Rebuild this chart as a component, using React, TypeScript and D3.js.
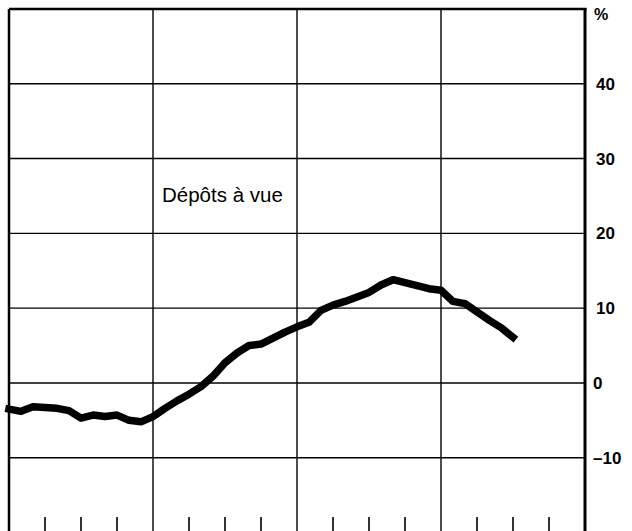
import { useMemo } from "react";
import * as d3 from "d3";

// monthly growth rate, % (year-on-year), one value per month from the left edge
const depotsVue = [
  -3.5, -3.8, -3.2, -3.3, -3.4, -3.7, -4.7, -4.3, -4.5, -4.3, -5.0, -5.2,
  -4.5, -3.4, -2.4, -1.5, -0.5, 0.9, 2.7, 4.0, 5.0, 5.2, 6.0, 6.8,
  7.5, 8.1, 9.7, 10.4, 10.9, 11.5, 12.1, 13.1, 13.8, 13.4, 13.0, 12.6,
  12.4, 10.9, 10.6, 9.5, 8.4, 7.4, 6.1,
];
const yTicks = [40, 30, 20, 10, 0, -10];
const years = [0, 1, 2, 3, 4];
const quarters = [3, 6, 9];

const W = 632;
const H = 531;
const left = 9;
const right = 585;
const top = 9;
const bottom = 531;

export default function App() {
  const x = useMemo(() => d3.scaleLinear().domain([0, 48]).range([left, right]), []);
  const y = useMemo(() => d3.scaleLinear().domain([-20, 50]).range([532.5, 9]), []);

  const line = d3
    .line<number>()
    .x((_, i) => x(i))
    .y((d) => y(d))
    .curve(d3.curveLinear);

  const font = "'Liberation Sans', Arial, Helvetica, sans-serif";

  return (
    <svg
      width={W}
      height={H}
      viewBox={`0 0 ${W} ${H}`}
      style={{ position: "absolute", left: 0, top: 0, background: "#fff" }}
    >
      {/* horizontal grid */}
      {yTicks.map((t) => (
        <line key={t} x1={left} x2={right} y1={y(t)} y2={y(t)} stroke="#000" strokeWidth={1.4} />
      ))}
      {/* vertical grid (years) */}
      {years.slice(1, 4).map((yr) => (
        <line key={yr} x1={x(yr * 12)} x2={x(yr * 12)} y1={top} y2={bottom} stroke="#000" strokeWidth={1.4} />
      ))}
      {/* quarter ticks at the bottom */}
      {years.slice(0, 4).map((yr) =>
        quarters.map((q) => (
          <line
            key={`${yr}-${q}`}
            x1={x(yr * 12 + q)}
            x2={x(yr * 12 + q)}
            y1={bottom - 14}
            y2={bottom}
            stroke="#000"
            strokeWidth={1.6}
          />
        ))
      )}
      {/* frame */}
      <line x1={left} x2={right + 1.5} y1={top} y2={top} stroke="#000" strokeWidth={2.5} />
      <line x1={left} x2={left} y1={top} y2={bottom} stroke="#000" strokeWidth={2.5} />
      <line x1={right} x2={right} y1={top - 1} y2={bottom} stroke="#000" strokeWidth={3} />

      {/* series */}
      <path
        d={line(depotsVue) ?? ""}
        fill="none"
        stroke="#000"
        strokeWidth={7.5}
        strokeLinejoin="round"
        strokeLinecap="square"
      />

      <text x={162} y={202} fontFamily={font} fontSize={20.5} fill="#000">
        Dépôts à vue
      </text>

      {/* right axis labels */}
      <text x={594} y={20} fontFamily={font} fontSize={16} fontWeight="bold" fill="#000">
        %
      </text>
      {yTicks.map((t) => (
        <text
          key={t}
          x={t < 0 ? 593 : t === 0 ? 593 : 596}
          y={y(t)}
          dy="0.36em"
          fontFamily={font}
          fontSize={17}
          fontWeight="bold"
          fill="#000"
        >
          {t < 0 ? `–${Math.abs(t)}` : t}
        </text>
      ))}
    </svg>
  );
}
